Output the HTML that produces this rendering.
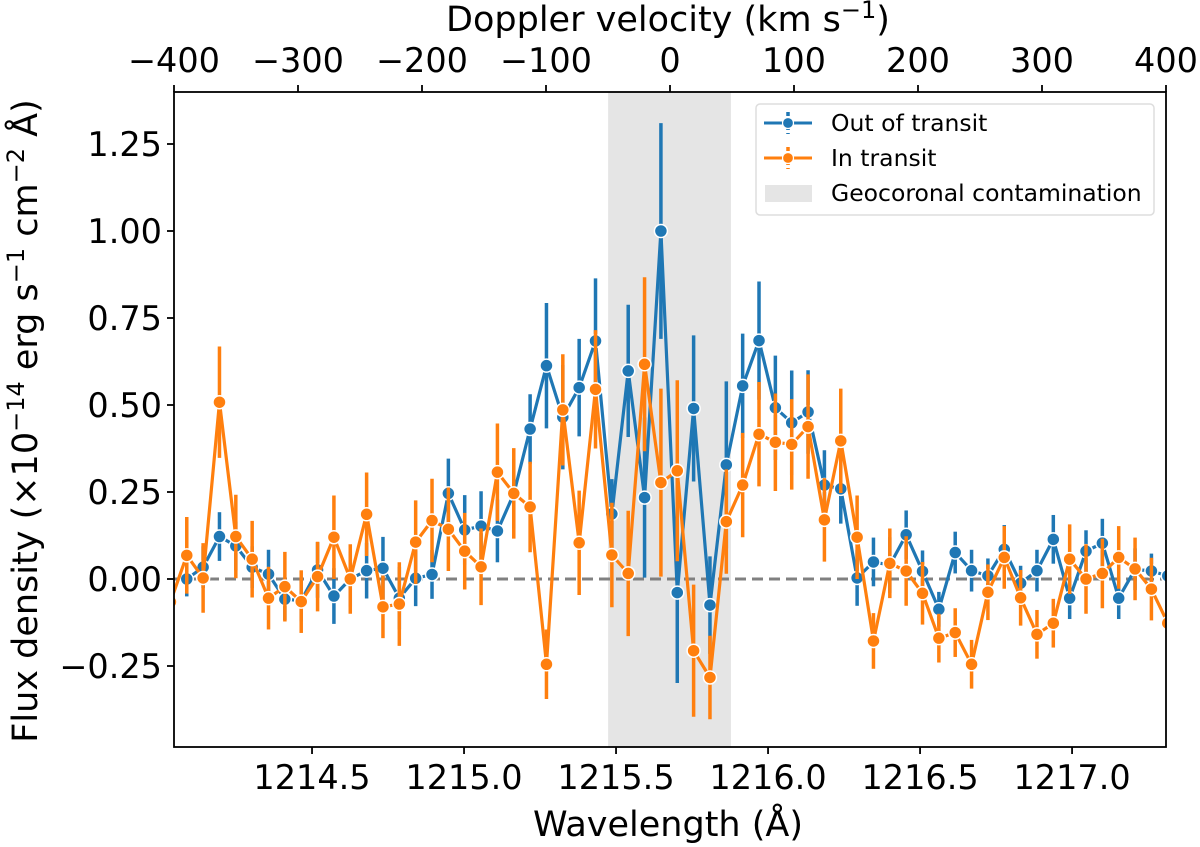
<!DOCTYPE html>
<html><head><meta charset="utf-8">
<style>
html,body{margin:0;padding:0;background:#fff;}
svg{display:block;font-family:"DejaVu Sans","Liberation Sans",sans-serif;}
</style></head>
<body>
<svg id="chart" width="1200" height="847" viewBox="0 0 1200 847"></svg>
<script>
// ---- data ----
const startIndex = -1;           // first sample index
const sampleStep = 0.05378;      // Å per sample
const sampleStart = 1214.088;    // wavelength of sample index 0
const outFlux = [null,0.000,0.034,0.122,0.095,0.034,0.014,-0.058,-0.062,0.026,-0.049,0.000,0.024,0.031,-0.055,0.002,0.013,0.246,0.141,0.152,0.138,0.245,0.431,0.613,0.465,0.550,0.684,0.187,0.598,0.234,1.000,-0.039,0.490,-0.075,0.328,0.555,0.685,0.492,0.449,0.480,0.270,0.259,0.003,0.049,0.040,0.127,0.022,-0.087,0.076,0.024,0.009,0.085,-0.012,0.024,0.114,-0.055,0.080,0.103,-0.055,0.028,0.023,0.009];
const outErr = [null,0.05,0.06,0.07,0.07,0.06,0.07,0.06,0.06,0.08,0.08,0.08,0.08,0.09,0.09,0.08,0.07,0.10,0.10,0.10,0.09,0.10,0.10,0.18,0.15,0.14,0.18,0.10,0.19,0.23,0.31,0.26,0.21,0.14,0.24,0.15,0.17,0.15,0.15,0.12,0.10,0.10,0.08,0.07,0.08,0.07,0.06,0.05,0.06,0.06,0.05,0.07,0.05,0.06,0.07,0.06,0.06,0.07,0.06,0.06,0.05,0.05];
const inFlux = [-0.066,0.068,0.003,0.508,0.122,0.057,-0.055,-0.022,-0.065,0.007,0.120,0.000,0.186,-0.080,-0.072,0.106,0.168,0.143,0.080,0.035,0.307,0.246,0.207,-0.245,0.486,0.104,0.545,0.069,0.016,0.617,0.277,0.311,-0.206,-0.283,0.165,0.270,0.416,0.393,0.387,0.438,0.170,0.397,0.120,-0.178,0.045,0.023,-0.041,-0.170,-0.154,-0.245,-0.038,0.062,-0.054,-0.159,-0.127,0.057,0.000,0.016,0.062,0.029,-0.029,-0.127];
const inErr = [0.10,0.11,0.10,0.16,0.12,0.11,0.09,0.10,0.09,0.10,0.12,0.10,0.12,0.09,0.12,0.12,0.12,0.12,0.11,0.11,0.14,0.13,0.13,0.10,0.16,0.15,0.17,0.15,0.18,0.25,0.27,0.26,0.19,0.12,0.15,0.15,0.15,0.14,0.13,0.15,0.12,0.15,0.12,0.08,0.10,0.10,0.09,0.07,0.07,0.07,0.08,0.09,0.08,0.07,0.07,0.10,0.10,0.10,0.09,0.09,0.09,0.10];
const yTicks = [-0.25,0,0.25,0.5,0.75,1.0,1.25];
const yTickLabels = ["−0.25","0.00","0.25","0.50","0.75","1.00","1.25"];
const xTicks = [1214.5,1215.0,1215.5,1216.0,1216.5,1217.0];
const xTickLabels = ["1214.5","1215.0","1215.5","1216.0","1216.5","1217.0"];
const vTicks = [-400,-300,-200,-100,0,100,200,300,400];
const vTickLabels = ["−400","−300","−200","−100","0","100","200","300","400"];
const geoBand = [1215.474,1215.878];

// ---- layout ----
const L=174,R=1166,T=92,B=747;
const xMin=1214.046,xMax=1217.309;
const yZeroPx=579, pxPerUnit=348;
const X=w=>L+(w-xMin)/(xMax-xMin)*(R-L);
const Y=v=>yZeroPx-v*pxPerUnit;
const V=v=>L+(v+400)/800*(R-L);
const NS="http://www.w3.org/2000/svg";
const svg=document.getElementById('chart');
function mk(tag,attrs,parent){const e=document.createElementNS(NS,tag);for(const k in attrs)e.setAttribute(k,attrs[k]);(parent||svg).appendChild(e);return e;}
const blue="#1f77b4",orange="#ff7f0e";
const wl=i=>sampleStart+(i+startIndex)*sampleStep;

const defs=mk('defs',{});
const cp=mk('clipPath',{id:'plotclip'},defs);
mk('rect',{x:L,y:T,width:R-L,height:B-T},cp);

const band=mk('rect',{x:X(geoBand[0]),y:T,width:X(geoBand[1])-X(geoBand[0]),height:B-T,fill:'#e5e5e5'});



const plot=mk('g',{'clip-path':'url(#plotclip)'});



const zl=mk('line',{x1:L,x2:R,y1:Y(0),y2:Y(0),stroke:'#808080','stroke-width':3,'stroke-dasharray':'11,6'},plot);



function series(flux,err,color,name){
  const g=mk('g',{},plot);
  
  
  for(let i=0;i<flux.length;i++){ if(flux[i]===null)continue;
    const eb=mk('line',{x1:X(wl(i)),x2:X(wl(i)),y1:Y(flux[i]-err[i]),y2:Y(flux[i]+err[i]),stroke:color,'stroke-width':3.5},g);
    
    
  }
  let d='';
  for(let i=0;i<flux.length;i++){ if(flux[i]===null)continue; d+=(d?'L':'M')+X(wl(i)).toFixed(1)+','+Y(flux[i]).toFixed(1);}
  const ln=mk('path',{d:d,fill:'none',stroke:color,'stroke-width':3.2,'stroke-linejoin':'round'},g);
  
  
  for(let i=0;i<flux.length;i++){ if(flux[i]===null)continue;
    const c=mk('circle',{cx:X(wl(i)),cy:Y(flux[i]),r:6.5,fill:color,stroke:'#fff','stroke-width':1.5},g);
    
    
  }
}
series(outFlux,outErr,blue,'out-of-transit');
series(inFlux,inErr,orange,'in-transit');

const fr=mk('rect',{x:L,y:T,width:R-L,height:B-T,fill:'none',stroke:'#000','stroke-width':1.8});



const yAx=mk('g',{});


yTicks.forEach((v,i)=>{
  mk('line',{x1:L-7,x2:L,y1:Y(v),y2:Y(v),stroke:'#000','stroke-width':1.8},yAx);
  const t=mk('text',{x:L-12,y:Y(v)+12,'text-anchor':'end','font-size':33.5,fill:'#000'},yAx);
  t.textContent=yTickLabels[i];
  
  
});
const xAx=mk('g',{});


xTicks.forEach((v,i)=>{
  mk('line',{x1:X(v),x2:X(v),y1:B,y2:B+7,stroke:'#000','stroke-width':1.8},xAx);
  const t=mk('text',{x:X(v),y:789,'text-anchor':'middle','font-size':33.5,fill:'#000'},xAx);
  t.textContent=xTickLabels[i];
  
  
});
const vAx=mk('g',{});


vTicks.forEach((v,i)=>{
  mk('line',{x1:V(v),x2:V(v),y1:T-7,y2:T,stroke:'#000','stroke-width':1.8},vAx);
  const t=mk('text',{x:V(v),y:72,'text-anchor':'middle','font-size':33.5,fill:'#000'},vAx);
  t.textContent=vTickLabels[i];
  
  
});
</script>
<div style="position:absolute;left:0;top:0;width:1200px;height:847px;pointer-events:none">
<svg width="1200" height="847" style="position:absolute;left:0;top:0" font-family="DejaVu Sans, Liberation Sans, sans-serif">
  <text x="668" y="836" text-anchor="middle" font-size="35">Wavelength (Å)</text>
  <text x="668" y="31" text-anchor="middle" font-size="35">Doppler velocity (km s<tspan dy="-13" font-size="24">−1</tspan><tspan dy="13">)</tspan></text>
  <text transform="translate(37,421) rotate(-90)" text-anchor="middle" font-size="35">Flux density (×10<tspan dy="-13" font-size="24">−14</tspan><tspan dy="13"> erg s</tspan><tspan dy="-13" font-size="24">−1</tspan><tspan dy="13"> cm</tspan><tspan dy="-13" font-size="24">−2</tspan><tspan dy="13"> Å)</tspan></text>
  <g>
    <rect x="756" y="104" width="398" height="111" rx="4" fill="#fff" fill-opacity="0.85" stroke="#ddd" stroke-width="1.5"/>
    <g>
      <line x1="764" x2="812" y1="123" y2="123" stroke="#1f77b4" stroke-width="3"/>
      <line x1="788" x2="788" y1="112" y2="134" stroke="#1f77b4" stroke-width="3.5" stroke-dasharray="4,3"/>
      <circle cx="788" cy="123" r="5.5" fill="#1f77b4" stroke="#fff" stroke-width="1.2"/>
      <text x="831" y="131" font-size="23.5">Out of transit</text>
    </g>
    <g>
      <line x1="764" x2="812" y1="158" y2="158" stroke="#ff7f0e" stroke-width="3"/>
      <line x1="788" x2="788" y1="147" y2="169" stroke="#ff7f0e" stroke-width="3.5" stroke-dasharray="4,3"/>
      <circle cx="788" cy="158" r="5.5" fill="#ff7f0e" stroke="#fff" stroke-width="1.2"/>
      <text x="831" y="166" font-size="23.5">In transit</text>
    </g>
    <g>
      <rect x="765" y="185" width="47" height="17" fill="#e5e5e5"/>
      <text x="831" y="201" font-size="23.5">Geocoronal contamination</text>
    </g>
  </g>
</svg>
</div>
</body></html>
